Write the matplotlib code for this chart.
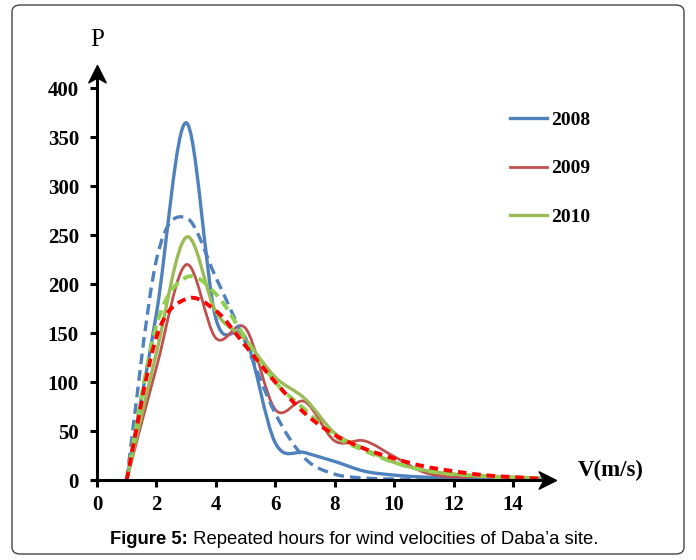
import numpy as np
import matplotlib
matplotlib.use("Agg")
import matplotlib.pyplot as plt
from matplotlib.path import Path
from matplotlib.patches import PathPatch, FancyBboxPatch
from matplotlib.lines import Line2D

# wind speed classes (m/s) and repeated hours
speed = [1, 2, 3, 4, 5, 6, 7, 8, 9, 10, 11, 12, 13, 14, 15]

p2008 = [0, 170, 365, 165, 145, 38, 28, 19, 9, 5, 3, 2, 1, 1, 1]
p2009 = [0, 115, 220, 145, 155, 72, 80, 40, 40, 24, 8, 3, 4, 2, 1]
p2010 = [0, 130, 248, 172, 143, 105, 83, 48, 32, 18, 10, 6, 4, 3, 2]

fit2008 = [0, 225, 268, 207, 140, 68, 22, 6, 2, 1, 0, 0, 0, 0, 0]
fit2009 = [0, 146, 185, 173, 137, 100, 68, 46, 32, 22, 14, 9, 5, 3, 1]
fit2010 = [0, 158, 207, 190, 145, 100, 72, 45, 30, 18, 10, 6, 4, 2, 1]

years = ["2008", "2009", "2010"]
yticks = [0, 50, 100, 150, 200, 250, 300, 350, 400]
xticks = [0, 2, 4, 6, 8, 10, 12, 14]

SERIF = "Liberation Serif"
SANS = "Liberation Sans"


def smooth_path(x, y):
    # excel style smoothed line: cubic bezier segments (catmull-rom tangents)
    pts = np.column_stack([x, y]).astype(float)
    n = len(pts)
    verts = [pts[0]]
    codes = [Path.MOVETO]
    for i in range(n - 1):
        p0 = pts[i - 1] if i > 0 else pts[i]
        p1 = pts[i]
        p2 = pts[i + 1]
        p3 = pts[i + 2] if i + 2 < n else pts[i + 1]
        c1 = p1 + (p2 - p0) / 6.0
        c2 = p2 - (p3 - p1) / 6.0
        verts += [c1, c2, p2]
        codes += [Path.CURVE4] * 3
    return Path(verts, codes)


# stealth style arrow heads, tip sits on the marker position
head_right = Path([(0, 0), (-1, 0.5), (-0.72, 0), (-1, -0.5), (0, 0)],
                  [Path.MOVETO, Path.LINETO, Path.LINETO, Path.LINETO, Path.CLOSEPOLY])
head_up = Path([(0, 0), (0.5, -1), (0, -0.72), (-0.5, -1), (0, 0)],
               [Path.MOVETO, Path.LINETO, Path.LINETO, Path.LINETO, Path.CLOSEPOLY])

fig = plt.figure(figsize=(6.96, 5.6), dpi=100)
ax = fig.add_axes([97 / 696, 80 / 560, 459 / 696, 415 / 560])
ax.set_xlim(0, 15.45)
ax.set_ylim(0, 424)

# measured curves
solid = [(p2008, "#4F81BD", 2.4), (p2009, "#C0504D", 2.0), (p2010, "#9BBB59", 2.4)]
for vals, col, lw in solid:
    ax.add_patch(PathPatch(smooth_path(speed, vals), fill=False, edgecolor=col,
                           lw=lw, capstyle="round", joinstyle="round", zorder=3))

# fitted (dashed) curves
dashed = [(fit2008, "#4F81BD", 2.4, (0, (3.2, 1.8))),
          (fit2010, "#92D050", 2.8, (0, (2.6, 1.6))),
          (fit2009, "#FF0000", 2.8, (0, (2.2, 1.5)))]
for vals, col, lw, ls in dashed:
    ax.add_patch(PathPatch(smooth_path(speed, vals), fill=False, edgecolor=col,
                           lw=lw, linestyle=ls, zorder=4))

# axes drawn as arrows
for s in ax.spines.values():
    s.set_visible(False)
ax.plot([-0.012, 0.985], [0, 0], transform=ax.transAxes, color="black", lw=2.2,
        clip_on=False, zorder=5, solid_capstyle="butt")
ax.plot([0, 0], [-0.005, 0.98], transform=ax.transAxes, color="black", lw=2.2,
        clip_on=False, zorder=5, solid_capstyle="butt")
ax.plot([1], [0], transform=ax.transAxes, marker=head_right, ms=25, color="black",
        clip_on=False, zorder=6)
ax.plot([0], [1], transform=ax.transAxes, marker=head_up, ms=25, color="black",
        clip_on=False, zorder=6)

ax.set_xticks(xticks)
ax.set_yticks(yticks)
ax.set_xticklabels([str(t) for t in xticks], fontfamily=SERIF, fontweight="bold", fontsize=15)
ax.set_yticklabels([str(t) for t in yticks], fontfamily=SERIF, fontweight="bold", fontsize=15)
ax.tick_params(axis="x", direction="out", length=5, width=2.2, pad=6)
ax.tick_params(axis="y", direction="out", length=5, width=2.2, pad=8)

fig.text(97 / 696, 1 - 40 / 560, "P", fontfamily=SERIF, fontsize=18, ha="center", va="center")
fig.text(578 / 696, 1 - 470 / 560, "V(m/s)", fontfamily=SERIF, fontweight="bold",
         fontsize=16.5, ha="left", va="center")

# legend shows measured lines only
handles = [Line2D([], [], color=c, lw=lw) for _, c, lw in solid]
ax.legend(handles, years, loc="upper left", bbox_to_anchor=(510 / 696, 1 - 111 / 560),
          bbox_transform=fig.transFigure, frameon=False, borderpad=0, borderaxespad=0,
          handlelength=1.9, handletextpad=0.2, labelspacing=1.6,
          prop=dict(family=SERIF, weight="bold", size=14))

# caption
t1 = fig.text(110 / 696, 1 - 539 / 560, "Figure 5:", fontfamily=SANS, fontweight="bold",
              fontsize=13.3, ha="left", va="center")
ax.annotate(" Repeated hours for wind velocities of Daba\u2019a site.", xy=(1, 0.5),
            xycoords=t1, va="center", ha="left", fontfamily=SANS, fontsize=13.3,
            annotation_clip=False)

# rounded frame around the whole figure
fig.patches.append(FancyBboxPatch((12 / 696, 6 / 560), 672 / 696, 549 / 560,
                                  boxstyle="round,pad=0,rounding_size=0.012",
                                  transform=fig.transFigure, fill=False,
                                  edgecolor="#444444", lw=1.0))

fig.savefig("out.png", dpi=100)
